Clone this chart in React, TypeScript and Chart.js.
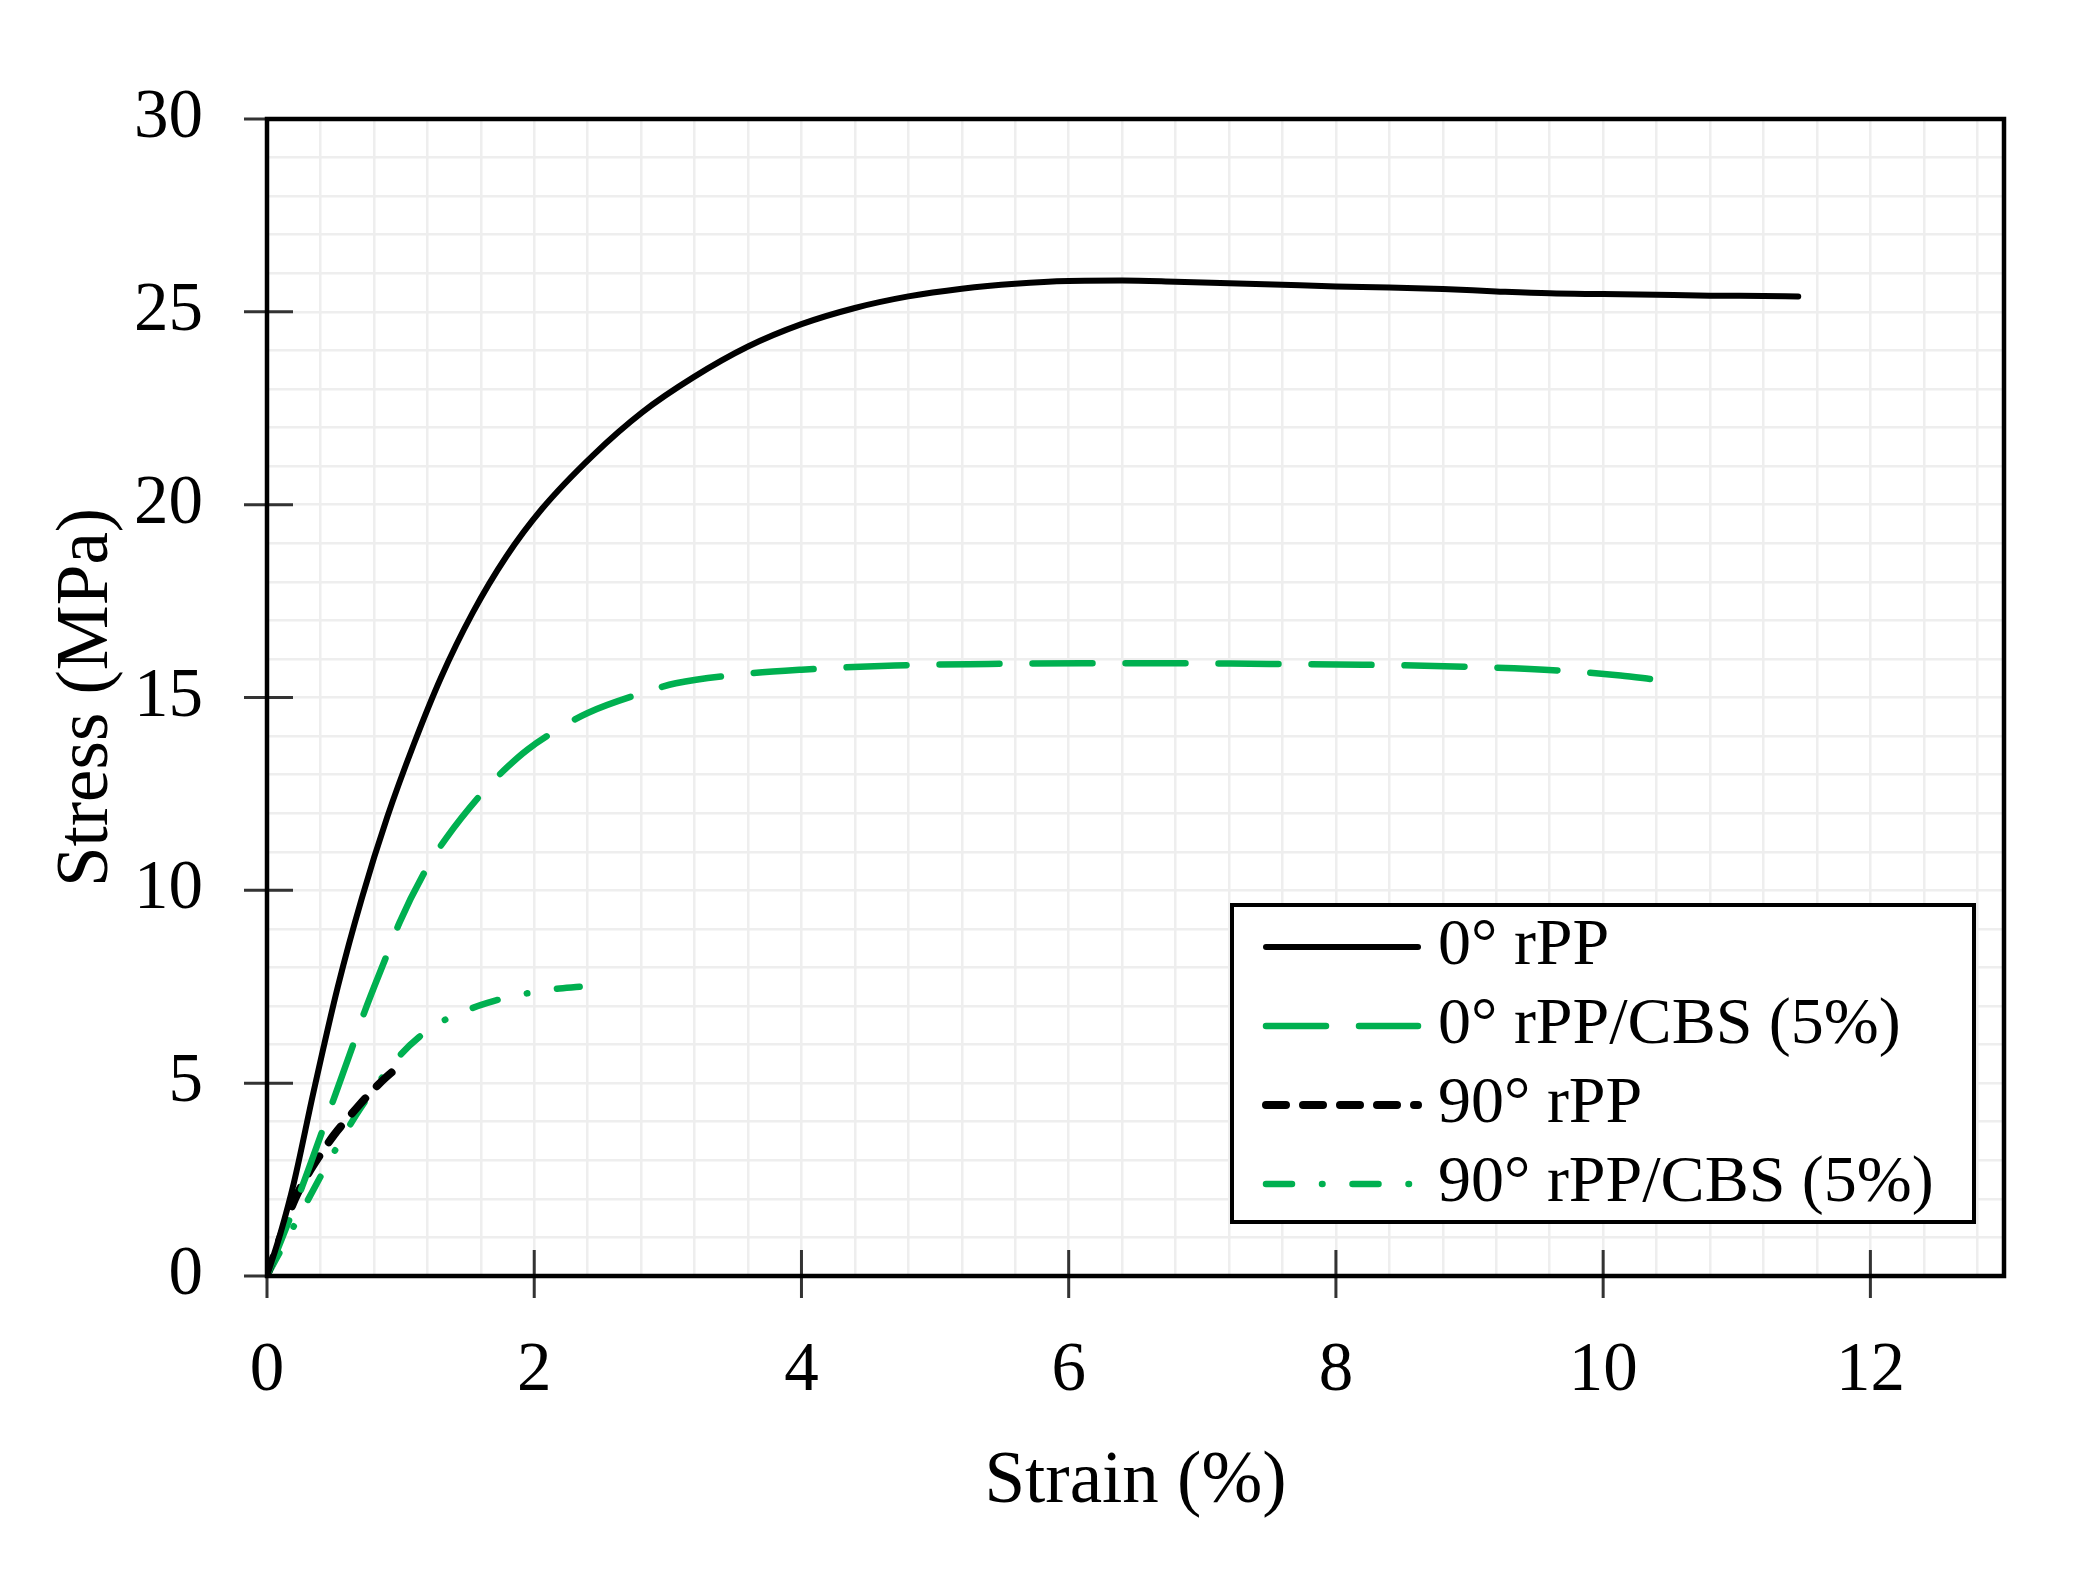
import React, { useEffect, useRef } from "react";
import { Chart, registerables } from "chart.js";

Chart.register(...registerables);

const FONT = "'Liberation Serif', 'Times New Roman', serif";
const GREEN = "#00b050";

// values (strain in %, stress in MPa)
const rpp0Strain = [0, 0.1, 0.2, 0.35, 0.53, 0.71, 0.9, 1.1, 1.3, 1.54, 1.79, 2.06, 2.44, 2.81, 3.19, 3.6, 4.0, 4.4, 4.8, 5.2, 5.6, 6.0, 6.4, 6.8, 7.2, 7.6, 8.0, 8.4, 8.8, 9.2, 9.6, 10.0, 10.4, 10.8, 11.2, 11.46];
const rpp0Stress = [0, 1.1, 2.4, 4.8, 7.5, 9.8, 11.9, 13.8, 15.5, 17.2, 18.65, 19.9, 21.28, 22.4, 23.3, 24.1, 24.68, 25.1, 25.4, 25.6, 25.73, 25.8, 25.81, 25.78, 25.74, 25.7, 25.66, 25.63, 25.59, 25.53, 25.48, 25.46, 25.44, 25.42, 25.41, 25.4];

const cbs0Strain = [0, 0.25, 0.49, 0.65, 0.73, 0.9, 0.99, 1.2, 1.34, 1.63, 1.8, 1.95, 2.19, 2.4, 2.84, 3.06, 3.54, 4.0, 4.7, 5.4, 6.1, 6.8, 7.5, 8.2, 8.96, 9.67, 10.13, 10.38];
const cbs0Stress = [0, 2.2, 4.5, 6.05, 6.85, 8.35, 9.15, 10.6, 11.35, 12.6, 13.2, 13.65, 14.2, 14.6, 15.15, 15.37, 15.6, 15.72, 15.83, 15.87, 15.89, 15.89, 15.87, 15.85, 15.8, 15.7, 15.57, 15.47];

const rpp90Strain = [0, 0.1, 0.21, 0.3, 0.4, 0.5, 0.62, 0.76, 0.89, 1.03];
const rpp90Stress = [0, 1.0, 2.0, 2.6, 3.15, 3.65, 4.15, 4.7, 5.15, 5.55];

const cbs90Strain = [0, 0.21, 0.5, 0.7, 0.99, 1.14, 1.31, 1.5, 1.65, 1.83, 2.0, 2.15, 2.34];
const cbs90Stress = [0, 1.35, 3.2, 4.35, 5.7, 6.2, 6.6, 6.9, 7.08, 7.25, 7.36, 7.44, 7.5];

const seriesLabels = ["0° rPP", "0° rPP/CBS (5%)", "90° rPP", "90° rPP/CBS (5%)"];
const xMajorTicks = [0, 2, 4, 6, 8, 10, 12];
const yMajorTicks = [0, 5, 10, 15, 20, 25, 30];

const pairs = (xs: number[], ys: number[]) => xs.map((x, i) => ({ x, y: ys[i] }));

const majorLabel = (majors: number[]) => (v: number | string) => {
  const hit = majors.find((t) => Math.abs(t - Number(v)) < 1e-6);
  return hit === undefined ? "" : String(hit);
};

// frame, crossing tick marks and the boxed legend inside the plot
const framePlugin = {
  id: "frameAndLegend",
  afterDatasetsDraw(chart: Chart) {
    const { ctx, chartArea, scales } = chart;
    const { left, right, top, bottom } = chartArea;
    ctx.save();

    ctx.strokeStyle = "#333";
    ctx.lineWidth = 3;
    ctx.beginPath();
    xMajorTicks.forEach((v) => {
      const px = scales.x.getPixelForValue(v);
      ctx.moveTo(px, v === 0 ? bottom : bottom - 26);
      ctx.lineTo(px, bottom + 22);
    });
    yMajorTicks.forEach((v) => {
      const py = scales.y.getPixelForValue(v);
      ctx.moveTo(left - 23, py);
      ctx.lineTo(v === 0 ? left : left + 26, py);
    });
    ctx.stroke();

    ctx.strokeStyle = "#000";
    ctx.lineWidth = 4.5;
    ctx.strokeRect(left, top, right - left, bottom - top);

    const bw = 742;
    const bh = 317;
    const bx = right - 30 - bw;
    const by = bottom - 54 - bh;
    ctx.fillStyle = "#fff";
    ctx.fillRect(bx, by, bw, bh);
    ctx.lineWidth = 4;
    ctx.strokeRect(bx, by, bw, bh);

    chart.data.datasets.forEach((ds: any, i: number) => {
      const y = by + 42 + i * 79;
      ctx.beginPath();
      ctx.setLineDash(ds.borderDash || []);
      ctx.lineCap = ds.borderCapStyle || "butt";
      ctx.lineWidth = ds.borderWidth;
      ctx.strokeStyle = ds.borderColor;
      ctx.moveTo(bx + 34, y);
      ctx.lineTo(bx + 186, y);
      ctx.stroke();
      ctx.setLineDash([]);
      ctx.fillStyle = "#000";
      ctx.font = `66px ${FONT}`;
      ctx.textAlign = "left";
      ctx.textBaseline = "middle";
      ctx.fillText(ds.label, bx + 206, y);
    });

    ctx.restore();
  },
};

export default function App() {
  const canvasRef = useRef<HTMLCanvasElement>(null);

  useEffect(() => {
    if (!canvasRef.current) return;

    const chart = new Chart(canvasRef.current, {
      type: "line",
      data: {
        datasets: [
          {
            label: seriesLabels[0],
            data: pairs(rpp0Strain, rpp0Stress),
            borderColor: "#000",
            borderWidth: 6,
            borderCapStyle: "round",
          },
          {
            label: seriesLabels[1],
            data: pairs(cbs0Strain, cbs0Stress),
            borderColor: GREEN,
            borderWidth: 6.5,
            borderDash: [60, 33],
            borderCapStyle: "round",
          },
          {
            label: seriesLabels[2],
            data: pairs(rpp90Strain, rpp90Stress),
            borderColor: "#000",
            borderWidth: 8,
            borderDash: [20, 17],
            borderCapStyle: "round",
          },
          {
            label: seriesLabels[3],
            data: pairs(cbs90Strain, cbs90Stress),
            borderColor: GREEN,
            borderWidth: 6.5,
            borderDash: [26, 30, 0.5, 30],
            borderCapStyle: "round",
          },
        ],
      },
      options: {
        animation: false,
        responsive: true,
        maintainAspectRatio: false,
        layout: { padding: { top: 119, right: 77, left: 0, bottom: 0 } },
        elements: {
          point: { radius: 0, hoverRadius: 0 },
          line: { cubicInterpolationMode: "monotone", fill: false },
        },
        plugins: {
          legend: { display: false },
          tooltip: { enabled: false },
        },
        scales: {
          x: {
            type: "linear",
            min: 0,
            max: 13,
            afterFit: (s: any) => {
              s.height = 298;
            },
            border: { display: false },
            grid: { color: "#eeeeee", lineWidth: 2.5, drawTicks: false },
            ticks: {
              stepSize: 0.4,
              includeBounds: false,
              autoSkip: false,
              maxRotation: 0,
              padding: 54,
              color: "#000",
              font: { family: FONT, size: 69 },
              callback: majorLabel(xMajorTicks),
            },
            title: {
              display: true,
              text: "Strain (%)",
              color: "#000",
              font: { family: FONT, size: 73 },
              padding: { top: 0, bottom: 47 },
            },
          },
          y: {
            type: "linear",
            min: 0,
            max: 30,
            afterFit: (s: any) => {
              s.width = 267;
            },
            border: { display: false },
            grid: { color: "#eeeeee", lineWidth: 2.5, drawTicks: false },
            ticks: {
              stepSize: 1,
              autoSkip: false,
              padding: 64,
              color: "#000",
              font: { family: FONT, size: 69 },
              callback: majorLabel(yMajorTicks),
            },
            title: {
              display: true,
              text: "Stress (MPa)",
              color: "#000",
              font: { family: FONT, size: 73 },
              padding: { top: 44, bottom: 0 },
            },
          },
        },
      },
      plugins: [framePlugin],
    });

    return () => {
      chart.destroy();
    };
  }, []);

  return (
    <div style={{ position: "fixed", left: 0, top: 0, width: 2081, height: 1574, background: "#fff" }}>
      <canvas ref={canvasRef} />
    </div>
  );
}
